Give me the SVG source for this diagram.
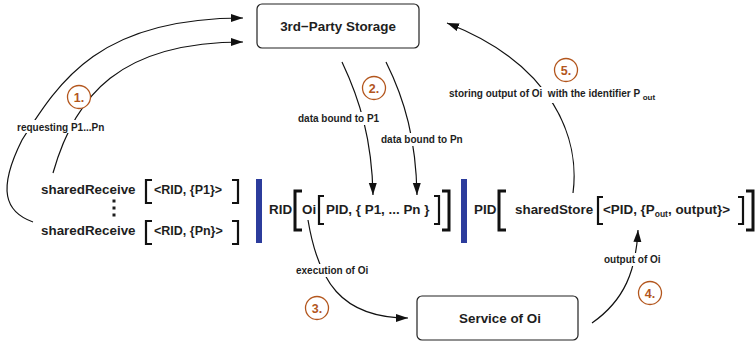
<svg xmlns="http://www.w3.org/2000/svg" width="756" height="344" viewBox="0 0 756 344">
<defs>
<marker id="ah" markerUnits="userSpaceOnUse" markerWidth="14" markerHeight="10" refX="12" refY="4" orient="auto">
<path d="M0,0 L12,4 L0,8 z" fill="#111"/>
</marker>
<style>
text{font-family:"Liberation Sans",Arial,sans-serif;font-weight:bold;fill:#1e1e1e}
.box{fill:#fff;stroke:#222;stroke-width:1.2}
.t13{font-size:13.4px}
.t12{font-size:12.5px}
.lbl{font-size:10px}
.pre{white-space:pre}
.bg{fill:#fff}
.conn{fill:none;stroke:#111;stroke-width:1.2}
.br{fill:none;stroke:#111;stroke-width:2.2}
.bbr{fill:none;stroke:#111;stroke-width:3}
.bar{fill:#2c3c9c}
.step circle{fill:#fff;stroke:#b3561d;stroke-width:1.3}
.step text{fill:#b3561d;font-size:12.5px;text-anchor:middle}
</style>
</defs>
<rect width="756" height="344" fill="#fff"/>

<g id="connectors">
<path class="conn" d="M33,222 C5,212 -3,190 22,140 C60,80 100,18 243,18" marker-end="url(#ah)"/>
<path class="conn" d="M53,173 C75,95 120,42 243,42" marker-end="url(#ah)"/>
<path class="conn" d="M342,62 C360,100 372,140 373,195" marker-end="url(#ah)"/>
<path class="conn" d="M386,62 C405,100 416,140 417,195" marker-end="url(#ah)"/>
<path class="conn" d="M308,220 C318,280 340,318 408,318" marker-end="url(#ah)"/>
<path class="conn" d="M592,323 C625,300 636,270 638,230" marker-end="url(#ah)"/>
<path class="conn" d="M573,193 C580,140 555,65 447,23" marker-end="url(#ah)"/>
</g>

<g id="labels">
<rect class="bg" x="15" y="120" width="94" height="13"/>
<text class="lbl" x="17" y="131">requesting P1...Pn</text>
<rect class="bg" x="296" y="112" width="85" height="13"/>
<text class="lbl" x="298" y="122">data bound to P1</text>
<rect class="bg" x="379" y="133" width="86" height="13"/>
<text class="lbl" x="381" y="143">data bound to Pn</text>
<rect class="bg" x="447" y="87" width="215" height="16"/>
<text class="lbl pre" x="449" y="97" xml:space="preserve">storing output of Oi  with the identifier P <tspan font-size="8" dy="3">out</tspan></text>
<rect class="bg" x="294" y="264" width="76" height="13"/>
<text class="lbl" x="296" y="274">execution of Oi</text>
<rect class="bg" x="602" y="253" width="62" height="13"/>
<text class="lbl" x="604" y="263">output of Oi</text>
</g>

<g id="storage">
<rect class="box" x="257" y="4" width="162" height="44" rx="5"/>
<text class="t13" x="338" y="31" text-anchor="middle">3rd−Party Storage</text>
</g>

<g id="service">
<rect class="box" x="417" y="296" width="161" height="44" rx="5"/>
<text class="t13" x="500" y="323" text-anchor="middle">Service of Oi</text>
</g>

<g id="shared-receive">
<text class="t13" x="41" y="194">sharedReceive</text>
<path class="br" d="M152,180 H146 V203 H152"/>
<text class="t12" x="154" y="194">&lt;RID, {P1}&gt;</text>
<path class="br" d="M232,180 H238 V203 H232"/>
<rect x="112.5" y="199.5" width="3" height="3" fill="#1e1e1e"/>
<rect x="112.5" y="206.5" width="3" height="3" fill="#1e1e1e"/>
<rect x="112.5" y="213.5" width="3" height="3" fill="#1e1e1e"/>
<text class="t13" x="41" y="235">sharedReceive</text>
<path class="br" d="M152,221 H146 V244 H152"/>
<text class="t12" x="154" y="235">&lt;RID, {Pn}&gt;</text>
<path class="br" d="M232,221 H238 V244 H232"/>
</g>

<g id="execution">
<rect class="bar" x="256" y="179" width="6" height="64"/>
<text class="t13" x="269" y="214">RID</text>
<path class="bbr" d="M302,191 H295 V230 H302"/>
<text class="t13" x="302" y="214">Oi</text>
<path class="br" d="M324,196 H319 V224 H324"/>
<text class="t13" x="326" y="214">PID, { P1, ... Pn }</text>
<path class="br" d="M434,196 H439 V224 H434"/>
<path class="bbr" d="M442,191 H449 V230 H442"/>
</g>

<g id="shared-store">
<rect class="bar" x="461" y="179" width="6" height="64"/>
<text class="t13" x="474" y="214">PID</text>
<path class="bbr" d="M506,191 H499 V230 H506"/>
<text class="t13" x="515" y="214">sharedStore</text>
<path class="br" d="M603,197 H598 V224 H603"/>
<text class="t13" x="603" y="214">&lt;PID, {P<tspan font-size="8.5" dy="3">out</tspan><tspan dy="-3">, output}&gt;</tspan></text>
<path class="br" d="M738,197 H743 V224 H738"/>
<path class="bbr" d="M746,191 H753 V230 H746"/>
</g>

<g id="steps">
<g class="step"><circle cx="79" cy="97" r="11.5"/><text x="79" y="102">1.</text></g>
<g class="step"><circle cx="374" cy="88" r="11.5"/><text x="374" y="93">2.</text></g>
<g class="step"><circle cx="317" cy="308" r="11.5"/><text x="317" y="313">3.</text></g>
<g class="step"><circle cx="650" cy="293" r="11.5"/><text x="650" y="298">4.</text></g>
<g class="step"><circle cx="566" cy="70" r="11.5"/><text x="566" y="75">5.</text></g>
</g>
</svg>
